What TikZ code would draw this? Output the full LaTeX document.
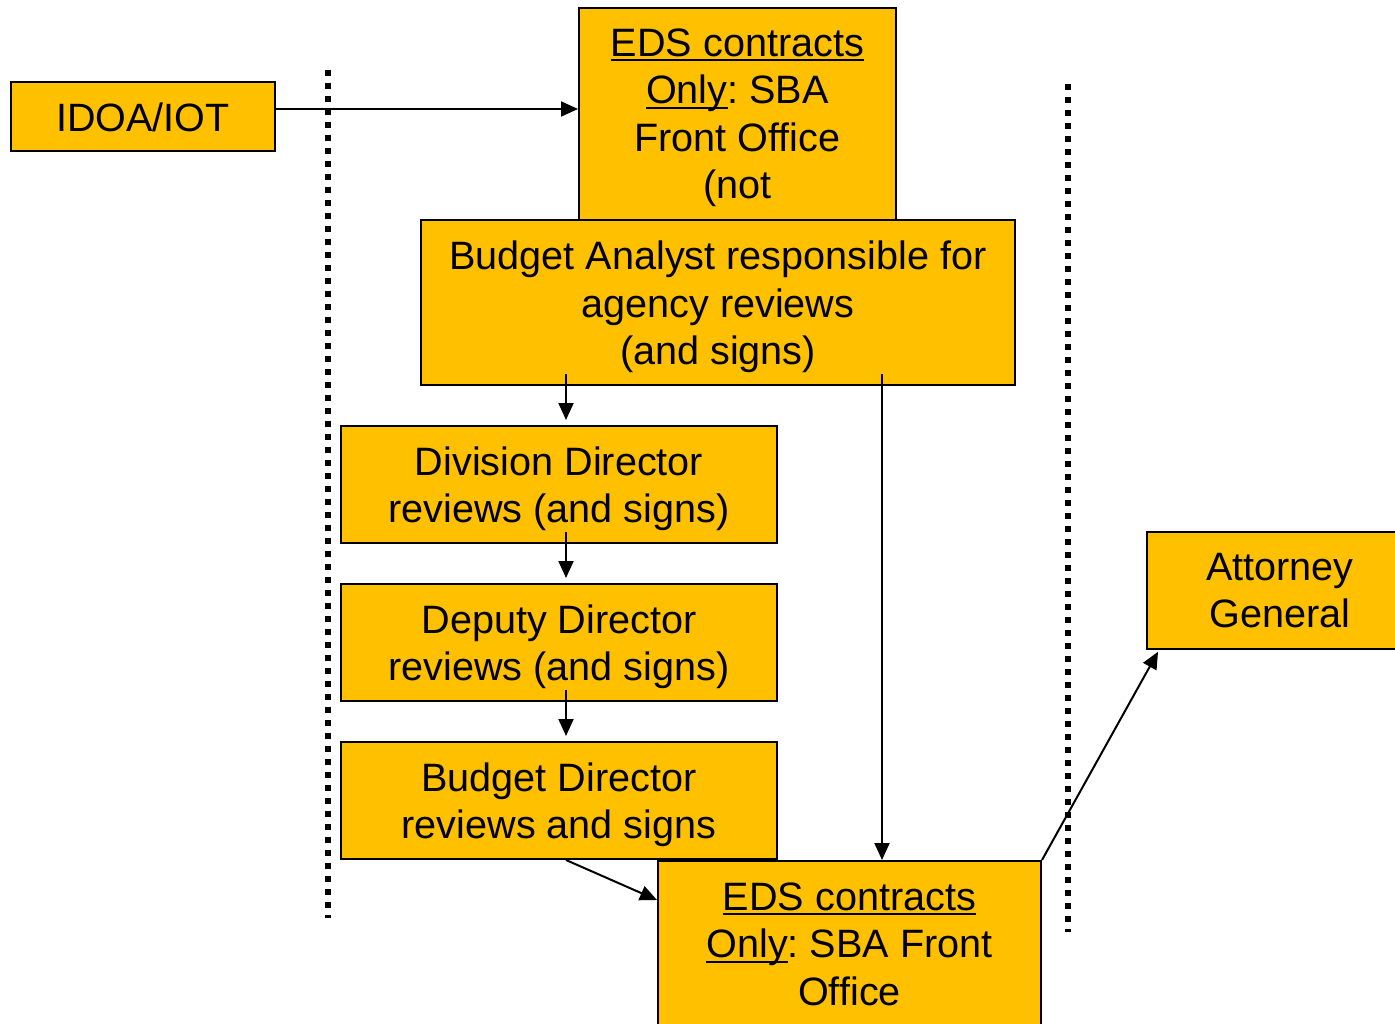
\documentclass[tikz,border=0pt]{standalone}
\usepackage{fontspec}
\setmainfont{Liberation Sans}
\usetikzlibrary{arrows.meta,calc}
\definecolor{gold}{HTML}{FFC000}
\frenchspacing
\newcommand\fs{\fontsize{39.6}{47.5}\selectfont\frenchspacing}
\newsavebox\myulbox
\newcommand\myul[1]{\sbox\myulbox{#1}\rlap{\rule[-5pt]{\wd\myulbox}{2pt}}\usebox\myulbox}
\begin{document}
\begin{tikzpicture}[x=1pt,y=-1pt,
  box/.style={draw=black, line width=2pt, fill=gold, inner sep=0pt, align=center, font=\fs},
  txt/.style={inner sep=0pt, align=center, font=\fs, yshift=-4.5pt},
  arr/.style={line width=2pt, -{Triangle[length=17pt,width=15pt]}},
  dotline/.style={line width=6pt, dash pattern=on 6pt off 7pt}]
\useasboundingbox (0,0) rectangle (1395,1024);
% dotted separators
\coordinate (l1) at (328,70); \coordinate (l2) at (328,918);
\coordinate (r1) at (1068,84); \coordinate (r2) at (1068,932);
\draw[dotline] (l1) -- (l2);
\draw[dotline] (r1) -- (r2);
% boxes
\node[box, minimum width=264, minimum height=69, font=\fontsize{39.5}{47}\selectfont] (idoa) at (143,117) {IDOA/IOT};
\node[box, minimum width=317, minimum height=258] (eds1) at (737.5,137) {};
\node[font=\fs, align=center, inner sep=0pt] (eds1t) at (737.5,118) {\myul{EDS contracts}\\\myul{Only}: SBA\\Front Office\\(not};
\node[box, minimum width=594, minimum height=165] (ba) at (718,302.5) {};
\node[txt] (bat) at (ba) {Budget Analyst responsible for\\agency reviews\\(and signs)};
\node[box, minimum width=436, minimum height=117] (div) at (559,484.5) {};
\node[txt] (divt) at (div) {Division Director\\reviews (and signs)};
\node[box, minimum width=436, minimum height=117] (dep) at (559,642.5) {};
\node[txt] (dept) at (dep) {Deputy Director\\reviews (and signs)};
\node[box, minimum width=436, minimum height=117] (bd) at (559,800.5) {};
\node[txt] (bdt) at (bd) {Budget Director\\reviews and signs};
\node[box, minimum width=383, minimum height=166] (eds2) at (849.5,944) {\myul{EDS contracts}\\\myul{Only}: SBA Front\\Office};
\node[box, minimum width=266, minimum height=117] (ag) at (1280,590.5) {Attorney\\General};
% connectors
\draw[arr] ([yshift=8pt]idoa.east) -- ([yshift=8pt]idoa.east -| eds1.west);
\draw[arr, shorten >=5pt] ([xshift=7pt,yshift=12pt]ba.south -| div.north) -- ([xshift=7pt]div.north);
\draw[arr, shorten >=5pt] ([xshift=7pt,yshift=12pt]div.south) -- ([xshift=7pt]dep.north);
\draw[arr, shorten >=5pt] ([xshift=7pt,yshift=12pt]dep.south) -- ([xshift=7pt]bd.north);
\draw[arr] ([xshift=32.5pt,yshift=12pt]eds2.north |- ba.south) -- ([xshift=32.5pt]eds2.north);
\draw[arr] ([xshift=7pt]bd.south) -- ([yshift=44pt]eds2.west);
\draw[arr, shorten >=2pt] (eds2.north east) -- ([xshift=13pt]ag.south west);
\end{tikzpicture}
\end{document}
